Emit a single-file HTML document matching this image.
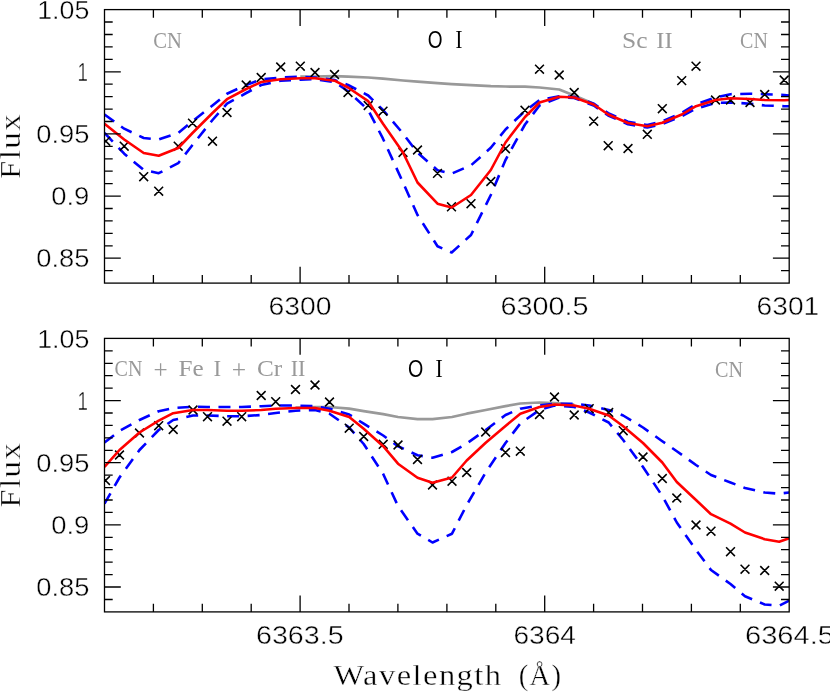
<!DOCTYPE html>
<html><head><meta charset="utf-8"><title>Spectrum fits</title>
<style>
html,body{margin:0;padding:0;background:#fff;overflow:hidden;}
svg{display:block;will-change:transform;}
.txt{filter:grayscale(1);}
text{font-family:"Liberation Serif",serif;stroke:#fff;stroke-width:0.55px;}
.ax{stroke:#000;stroke-width:1.3;fill:none;stroke-linecap:square;}
.tk{stroke:#000;stroke-width:1.3;fill:none;}
.red{stroke:#f00;stroke-width:2.6;fill:none;stroke-linejoin:round;}
.blu{stroke:#00f;stroke-width:2.6;fill:none;stroke-dasharray:12 8.5;stroke-linejoin:round;}
.gry{stroke:#999;stroke-width:2.7;fill:none;stroke-linejoin:round;}
.x{stroke:#000;stroke-width:1.55;fill:none;}
.tl{font-family:"Liberation Sans",sans-serif;font-size:25px;fill:#000;stroke-width:0.4px;}
.al{font-size:29px;fill:#000;stroke-width:0.35px;letter-spacing:1.3px;}
.gl{font-size:22.5px;fill:#999;stroke:none;}
.pl{font-size:28px;fill:#999;stroke:none;}
.bl{font-size:25.5px;fill:#000;stroke-width:0.2px;}
.bo{font-family:"Liberation Sans",sans-serif;font-size:23.6px;fill:#000;stroke:none;}
</style></head><body>
<svg width="830" height="693" viewBox="0 0 830 693">
<rect width="830" height="693" fill="#fff"/>
<defs><clipPath id="c1"><rect x="104.5" y="9.6" width="684.7" height="273.5"/></clipPath><clipPath id="c2"><rect x="104.5" y="338.4" width="684.7" height="273.5"/></clipPath></defs>
<g clip-path="url(#c1)">
<polyline class="gry" points="300.3,76.7 315.0,76.5 334.5,76.2 348.0,76.7 368.2,77.5 383.0,78.7 403.0,80.5 417.5,81.7 437.5,83.2 451.7,84.2 471.0,85.2 490.8,86.2 505.5,86.5 525.0,86.7 539.5,87.5 559.2,89.5 574.2,95.5 593.7,103.7"/>
<polyline class="blu" points="104.5,114.5 124.2,128.7 143.7,138.0 158.7,139.5 178.2,133.0 192.5,121.2 212.5,105.5 227.0,93.7 246.2,85.0 261.2,79.5 280.7,77.5 300.3,76.7 315.0,77.5 334.5,80.0 348.0,85.0 368.2,95.5 383.0,110.0 403.0,133.5 417.5,152.7 437.5,170.2 451.7,173.6 471.0,165.3 490.8,147.8 505.5,129.5 525.0,111.0 539.5,100.0 559.2,96.2 574.2,97.0 593.7,103.7 608.2,113.2 628.0,121.7 647.3,125.0 662.3,121.2 681.7,113.0 696.0,104.2 715.5,97.5 730.5,94.2 750.0,93.7 764.7,94.2 784.2,95.0 789.2,95.5"/>
<polyline class="blu" points="104.5,133.0 124.2,153.7 143.7,170.0 158.7,173.2 178.2,163.2 192.5,145.0 212.5,120.0 227.0,103.7 246.2,93.0 261.2,85.0 280.7,80.7 300.3,79.7 315.0,79.2 334.5,82.0 348.0,91.2 368.2,110.0 383.0,138.7 403.0,182.5 417.5,215.0 437.5,246.2 451.7,252.5 471.0,235.0 490.8,195.0 505.5,160.0 525.0,124.5 539.5,105.5 559.2,97.5 574.2,98.0 593.7,105.5 608.2,115.5 628.0,124.2 647.3,127.5 662.3,124.0 681.7,116.2 696.0,108.7 715.5,103.0 730.5,102.5 750.0,103.7 764.7,105.5 784.2,106.2 789.2,106.2"/>
<path class="x" d="M101.4 136.8l8.8 8.8M101.4 145.6l8.8 -8.8M119.8 141.8l8.8 8.8M119.8 150.6l8.8 -8.8M139.3 172.3l8.8 8.8M139.3 181.1l8.8 -8.8M154.3 186.8l8.8 8.8M154.3 195.6l8.8 -8.8M173.8 141.8l8.8 8.8M173.8 150.6l8.8 -8.8M188.1 118.8l8.8 8.8M188.1 127.6l8.8 -8.8M208.1 136.8l8.8 8.8M208.1 145.6l8.8 -8.8M222.6 108.1l8.8 8.8M222.6 116.9l8.8 -8.8M241.8 80.6l8.8 8.8M241.8 89.4l8.8 -8.8M256.8 73.1l8.8 8.8M256.8 81.9l8.8 -8.8M276.3 62.6l8.8 8.8M276.3 71.4l8.8 -8.8M295.9 61.8l8.8 8.8M295.9 70.6l8.8 -8.8M310.6 68.1l8.8 8.8M310.6 76.9l8.8 -8.8M330.1 70.1l8.8 8.8M330.1 78.9l8.8 -8.8M343.6 88.1l8.8 8.8M343.6 96.9l8.8 -8.8M363.8 101.1l8.8 8.8M363.8 109.9l8.8 -8.8M378.6 106.8l8.8 8.8M378.6 115.6l8.8 -8.8M398.6 148.1l8.8 8.8M398.6 156.9l8.8 -8.8M413.1 145.6l8.8 8.8M413.1 154.4l8.8 -8.8M433.1 169.0l8.8 8.8M433.1 177.8l8.8 -8.8M447.1 202.4l8.8 8.8M447.1 211.2l8.8 -8.8M466.6 199.3l8.8 8.8M466.6 208.1l8.8 -8.8M486.4 177.1l8.8 8.8M486.4 185.9l8.8 -8.8M501.1 144.3l8.8 8.8M501.1 153.1l8.8 -8.8M520.6 105.9l8.8 8.8M520.6 114.7l8.8 -8.8M535.1 64.8l8.8 8.8M535.1 73.6l8.8 -8.8M554.8 70.6l8.8 8.8M554.8 79.4l8.8 -8.8M569.8 88.1l8.8 8.8M569.8 96.9l8.8 -8.8M589.3 116.8l8.8 8.8M589.3 125.6l8.8 -8.8M603.8 141.3l8.8 8.8M603.8 150.1l8.8 -8.8M623.6 144.1l8.8 8.8M623.6 152.9l8.8 -8.8M642.9 129.9l8.8 8.8M642.9 138.7l8.8 -8.8M657.9 104.3l8.8 8.8M657.9 113.1l8.8 -8.8M677.3 76.2l8.8 8.8M677.3 85.0l8.8 -8.8M691.6 61.8l8.8 8.8M691.6 70.6l8.8 -8.8M711.1 95.6l8.8 8.8M711.1 104.4l8.8 -8.8M726.1 95.6l8.8 8.8M726.1 104.4l8.8 -8.8M745.6 98.1l8.8 8.8M745.6 106.9l8.8 -8.8M760.3 90.1l8.8 8.8M760.3 98.9l8.8 -8.8M779.8 75.6l8.8 8.8M779.8 84.4l8.8 -8.8"/>
<polyline class="red" points="104.5,123.7 124.2,139.5 143.7,153.0 158.7,155.7 178.2,148.0 192.5,133.0 212.5,113.0 227.0,99.2 246.2,89.0 261.2,82.0 280.7,79.2 300.3,78.2 315.0,78.2 334.5,80.7 348.0,87.5 368.2,101.2 383.0,123.7 403.0,152.5 417.5,182.5 437.5,203.7 451.7,207.5 471.0,195.0 490.8,170.0 505.5,142.5 525.0,117.0 539.5,102.5 559.2,96.7 574.2,97.5 593.7,104.5 608.2,114.5 628.0,123.0 647.3,126.3 662.3,122.8 681.7,114.5 696.0,106.2 715.5,100.0 730.5,98.2 750.0,99.0 764.7,100.0 784.2,100.2 789.2,100.0"/>
</g>
<path class="tk" d="M153.4 283.1v-8.2M153.4 9.6v8.2M202.3 283.1v-8.2M202.3 9.6v8.2M251.2 283.1v-8.2M251.2 9.6v8.2M300.1 283.1v-16.3M300.1 9.6v16.3M349.0 283.1v-8.2M349.0 9.6v8.2M397.9 283.1v-8.2M397.9 9.6v8.2M446.9 283.1v-8.2M446.9 9.6v8.2M495.8 283.1v-8.2M495.8 9.6v8.2M544.7 283.1v-16.3M544.7 9.6v16.3M593.6 283.1v-8.2M593.6 9.6v8.2M642.5 283.1v-8.2M642.5 9.6v8.2M691.4 283.1v-8.2M691.4 9.6v8.2M740.3 283.1v-8.2M740.3 9.6v8.2M104.5 270.7h8.2M789.2 270.7h-8.2M104.5 258.2h16.3M789.2 258.2h-16.3M104.5 245.8h8.2M789.2 245.8h-8.2M104.5 233.4h8.2M789.2 233.4h-8.2M104.5 220.9h8.2M789.2 220.9h-8.2M104.5 208.5h8.2M789.2 208.5h-8.2M104.5 196.1h16.3M789.2 196.1h-16.3M104.5 183.6h8.2M789.2 183.6h-8.2M104.5 171.2h8.2M789.2 171.2h-8.2M104.5 158.8h8.2M789.2 158.8h-8.2M104.5 146.4h8.2M789.2 146.4h-8.2M104.5 133.9h16.3M789.2 133.9h-16.3M104.5 121.5h8.2M789.2 121.5h-8.2M104.5 109.1h8.2M789.2 109.1h-8.2M104.5 96.6h8.2M789.2 96.6h-8.2M104.5 84.2h8.2M789.2 84.2h-8.2M104.5 71.8h16.3M789.2 71.8h-16.3M104.5 59.3h8.2M789.2 59.3h-8.2M104.5 46.9h8.2M789.2 46.9h-8.2M104.5 34.5h8.2M789.2 34.5h-8.2M104.5 22.0h8.2M789.2 22.0h-8.2"/>
<rect class="ax" x="104.5" y="9.6" width="684.7" height="273.5"/>
<g clip-path="url(#c2)">
<polyline class="gry" points="295.5,407.5 315.0,407.0 329.5,407.0 349.2,408.7 363.7,411.2 383.2,414.2 398.0,417.0 417.5,419.2 432.5,419.2 452.0,417.0 466.7,413.7 485.7,410.0 505.5,406.2 520.3,403.5 539.5,402.5 554.5,403.0 574.2,404.7"/>
<polyline class="blu" points="104.5,442.5 119.5,431.0 139.5,420.0 158.7,411.2 173.2,408.0 193.0,406.7 207.5,407.0 227.0,407.0 241.7,407.0 261.2,406.2 275.7,405.5 295.5,405.5 315.0,406.2 329.5,408.7 349.2,414.5 363.7,423.7 383.2,435.5 398.0,446.2 417.5,455.3 432.5,457.7 452.0,452.0 466.7,443.5 485.7,430.0 505.5,415.0 520.3,408.7 539.5,405.5 554.5,403.7 574.2,403.7 589.2,405.5 608.7,410.0 623.2,415.5 643.0,427.5 662.3,441.2 676.8,451.2 696.0,465.0 711.0,475.0 730.5,482.5 745.0,488.0 764.7,492.5 779.2,493.7 789.2,492.5"/>
<polyline class="blu" points="104.5,503.7 119.5,477.5 139.5,450.0 158.7,430.0 173.2,420.0 193.0,415.5 207.5,415.5 227.0,416.2 241.7,416.2 261.2,415.0 275.7,413.0 295.5,410.7 315.0,410.0 329.5,413.7 349.2,427.5 363.7,444.0 383.2,474.0 398.0,506.0 417.5,533.7 432.5,542.5 452.0,533.7 466.7,505.0 485.7,472.5 505.5,443.0 520.3,423.5 539.5,410.0 554.5,405.5 574.2,407.0 589.2,412.5 608.7,422.5 623.2,440.0 643.0,467.0 662.3,496.0 676.8,522.5 696.0,550.0 711.0,570.0 730.5,584.0 745.0,596.2 764.7,604.5 779.2,605.7 789.2,600.7"/>
<path class="x" d="M101.1 476.1l8.8 8.8M101.1 484.9l8.8 -8.8M115.1 450.6l8.8 8.8M115.1 459.4l8.8 -8.8M135.1 428.6l8.8 8.8M135.1 437.4l8.8 -8.8M154.3 421.3l8.8 8.8M154.3 430.1l8.8 -8.8M168.8 425.1l8.8 8.8M168.8 433.9l8.8 -8.8M188.6 405.6l8.8 8.8M188.6 414.4l8.8 -8.8M203.1 412.3l8.8 8.8M203.1 421.1l8.8 -8.8M222.6 416.8l8.8 8.8M222.6 425.6l8.8 -8.8M237.3 412.3l8.8 8.8M237.3 421.1l8.8 -8.8M256.8 391.1l8.8 8.8M256.8 399.9l8.8 -8.8M271.3 397.3l8.8 8.8M271.3 406.1l8.8 -8.8M291.1 385.1l8.8 8.8M291.1 393.9l8.8 -8.8M310.6 380.6l8.8 8.8M310.6 389.4l8.8 -8.8M325.1 397.6l8.8 8.8M325.1 406.4l8.8 -8.8M344.8 423.8l8.8 8.8M344.8 432.6l8.8 -8.8M359.3 432.1l8.8 8.8M359.3 440.9l8.8 -8.8M378.8 439.9l8.8 8.8M378.8 448.7l8.8 -8.8M393.6 440.6l8.8 8.8M393.6 449.4l8.8 -8.8M413.1 455.1l8.8 8.8M413.1 463.9l8.8 -8.8M428.1 480.6l8.8 8.8M428.1 489.4l8.8 -8.8M447.6 476.8l8.8 8.8M447.6 485.6l8.8 -8.8M462.3 468.1l8.8 8.8M462.3 476.9l8.8 -8.8M481.3 427.6l8.8 8.8M481.3 436.4l8.8 -8.8M501.1 448.1l8.8 8.8M501.1 456.9l8.8 -8.8M515.9 446.8l8.8 8.8M515.9 455.6l8.8 -8.8M535.1 410.1l8.8 8.8M535.1 418.9l8.8 -8.8M550.1 392.6l8.8 8.8M550.1 401.4l8.8 -8.8M569.8 410.6l8.8 8.8M569.8 419.4l8.8 -8.8M584.8 404.3l8.8 8.8M584.8 413.1l8.8 -8.8M604.3 408.1l8.8 8.8M604.3 416.9l8.8 -8.8M618.8 426.3l8.8 8.8M618.8 435.1l8.8 -8.8M638.6 452.6l8.8 8.8M638.6 461.4l8.8 -8.8M657.9 474.1l8.8 8.8M657.9 482.9l8.8 -8.8M672.4 493.6l8.8 8.8M672.4 502.4l8.8 -8.8M691.6 520.6l8.8 8.8M691.6 529.4l8.8 -8.8M706.6 526.8l8.8 8.8M706.6 535.6l8.8 -8.8M726.1 547.3l8.8 8.8M726.1 556.1l8.8 -8.8M740.6 564.8l8.8 8.8M740.6 573.6l8.8 -8.8M760.3 566.1l8.8 8.8M760.3 574.9l8.8 -8.8M774.8 581.8l8.8 8.8M774.8 590.6l8.8 -8.8"/>
<polyline class="red" points="104.5,467.0 119.5,450.0 139.5,432.5 158.7,420.7 173.2,413.2 193.0,410.0 207.5,410.0 227.0,410.7 241.7,410.7 261.2,410.0 275.7,408.7 295.5,408.0 315.0,408.0 329.5,410.7 349.2,417.0 363.7,428.7 383.2,446.2 398.0,463.7 417.5,477.7 432.5,482.7 452.0,477.5 466.7,460.5 485.7,442.7 505.5,426.0 520.3,413.7 539.5,407.0 554.5,404.5 574.2,405.5 589.2,408.7 608.7,415.5 623.2,426.2 643.0,443.0 662.3,462.5 676.8,482.0 696.0,500.0 711.0,514.2 730.5,523.7 745.0,532.5 764.7,539.2 779.2,541.7 789.2,538.2"/>
</g>
<path class="tk" d="M153.4 611.9v-8.2M153.4 338.4v8.2M202.3 611.9v-8.2M202.3 338.4v8.2M251.2 611.9v-8.2M251.2 338.4v8.2M300.1 611.9v-16.3M300.1 338.4v16.3M349.0 611.9v-8.2M349.0 338.4v8.2M397.9 611.9v-8.2M397.9 338.4v8.2M446.9 611.9v-8.2M446.9 338.4v8.2M495.8 611.9v-8.2M495.8 338.4v8.2M544.7 611.9v-16.3M544.7 338.4v16.3M593.6 611.9v-8.2M593.6 338.4v8.2M642.5 611.9v-8.2M642.5 338.4v8.2M691.4 611.9v-8.2M691.4 338.4v8.2M740.3 611.9v-8.2M740.3 338.4v8.2M104.5 599.5h8.2M789.2 599.5h-8.2M104.5 587.0h16.3M789.2 587.0h-16.3M104.5 574.6h8.2M789.2 574.6h-8.2M104.5 562.2h8.2M789.2 562.2h-8.2M104.5 549.7h8.2M789.2 549.7h-8.2M104.5 537.3h8.2M789.2 537.3h-8.2M104.5 524.9h16.3M789.2 524.9h-16.3M104.5 512.4h8.2M789.2 512.4h-8.2M104.5 500.0h8.2M789.2 500.0h-8.2M104.5 487.6h8.2M789.2 487.6h-8.2M104.5 475.2h8.2M789.2 475.2h-8.2M104.5 462.7h16.3M789.2 462.7h-16.3M104.5 450.3h8.2M789.2 450.3h-8.2M104.5 437.9h8.2M789.2 437.9h-8.2M104.5 425.4h8.2M789.2 425.4h-8.2M104.5 413.0h8.2M789.2 413.0h-8.2M104.5 400.6h16.3M789.2 400.6h-16.3M104.5 388.1h8.2M789.2 388.1h-8.2M104.5 375.7h8.2M789.2 375.7h-8.2M104.5 363.3h8.2M789.2 363.3h-8.2M104.5 350.8h8.2M789.2 350.8h-8.2"/>
<rect class="ax" x="104.5" y="338.4" width="684.7" height="273.5"/>
<g class="txt">
<text class="tl" x="37.2" y="18.7" textLength="52.2" lengthAdjust="spacingAndGlyphs">1.05</text>
<text class="tl" x="77.5" y="80.9" textLength="10.4" lengthAdjust="spacingAndGlyphs">1</text>
<text class="tl" x="36.2" y="143.0" textLength="53.2" lengthAdjust="spacingAndGlyphs">0.95</text>
<text class="tl" x="51.2" y="205.2" textLength="38.2" lengthAdjust="spacingAndGlyphs">0.9</text>
<text class="tl" x="36.2" y="267.3" textLength="53.2" lengthAdjust="spacingAndGlyphs">0.85</text>
<text class="tl" x="37.2" y="347.5" textLength="52.2" lengthAdjust="spacingAndGlyphs">1.05</text>
<text class="tl" x="77.5" y="409.7" textLength="10.4" lengthAdjust="spacingAndGlyphs">1</text>
<text class="tl" x="36.2" y="471.8" textLength="53.2" lengthAdjust="spacingAndGlyphs">0.95</text>
<text class="tl" x="51.2" y="534.0" textLength="38.2" lengthAdjust="spacingAndGlyphs">0.9</text>
<text class="tl" x="36.2" y="596.1" textLength="53.2" lengthAdjust="spacingAndGlyphs">0.85</text>
<text class="tl" x="268.6" y="315.4" textLength="63.0" lengthAdjust="spacingAndGlyphs">6300</text>
<text class="tl" x="500.6" y="315.4" textLength="88.0" lengthAdjust="spacingAndGlyphs">6300.5</text>
<text class="tl" x="756.6" y="315.4" textLength="62.7" lengthAdjust="spacingAndGlyphs">6301</text>
<text class="tl" x="256.0" y="644.2" textLength="87.6" lengthAdjust="spacingAndGlyphs">6363.5</text>
<text class="tl" x="513.5" y="644.2" textLength="62.5" lengthAdjust="spacingAndGlyphs">6364</text>
<text class="tl" x="745.0" y="644.2" textLength="89.0" lengthAdjust="spacingAndGlyphs">6364.5</text>
<text class="al" x="333.6" y="684.6" textLength="168.9" lengthAdjust="spacingAndGlyphs">Wavelength</text>
<text class="al" x="518.8" y="684.6" textLength="43.6" lengthAdjust="spacingAndGlyphs">(&#197;)</text>
<text class="al" transform="translate(19.8 146.6) rotate(-90)" x="-32.4" y="0" textLength="66.0" lengthAdjust="spacingAndGlyphs">Flux</text>
<text class="al" transform="translate(19.8 475.3) rotate(-90)" x="-32.4" y="0" textLength="66.0" lengthAdjust="spacingAndGlyphs">Flux</text>
<text class="gl" x="153.2" y="47.9" textLength="28.6" lengthAdjust="spacingAndGlyphs">CN</text>
<text class="bo" x="427.7" y="47.9" textLength="14.8" lengthAdjust="spacingAndGlyphs">O</text>
<text class="bl" x="455.2" y="47.9" textLength="7.4" lengthAdjust="spacingAndGlyphs">I</text>
<text class="gl" x="622.0" y="48.2" textLength="25.5" lengthAdjust="spacingAndGlyphs">Sc</text>
<text class="gl" x="656.3" y="48.2" textLength="16.3" lengthAdjust="spacingAndGlyphs">II</text>
<text class="gl" x="740.1" y="48.2" textLength="27.8" lengthAdjust="spacingAndGlyphs">CN</text>
<text class="gl" x="114.6" y="376.4" textLength="27.8" lengthAdjust="spacingAndGlyphs">CN</text>
<text class="pl" x="153.6" y="379.2" textLength="14.2" lengthAdjust="spacingAndGlyphs">+</text>
<text class="gl" x="178.6" y="376.4" textLength="25.2" lengthAdjust="spacingAndGlyphs">Fe</text>
<text class="gl" x="213.4" y="376.4" textLength="7.7" lengthAdjust="spacingAndGlyphs">I</text>
<text class="pl" x="231.8" y="379.2" textLength="14.4" lengthAdjust="spacingAndGlyphs">+</text>
<text class="gl" x="257.0" y="376.4" textLength="25.2" lengthAdjust="spacingAndGlyphs">Cr</text>
<text class="gl" x="290.7" y="376.4" textLength="14.8" lengthAdjust="spacingAndGlyphs">II</text>
<text class="bo" x="408.0" y="376.9" textLength="15.3" lengthAdjust="spacingAndGlyphs">O</text>
<text class="bl" x="435.3" y="376.9" textLength="7.6" lengthAdjust="spacingAndGlyphs">I</text>
<text class="gl" x="715.0" y="376.5" textLength="28.0" lengthAdjust="spacingAndGlyphs">CN</text>
</g>
</svg>
</body></html>
